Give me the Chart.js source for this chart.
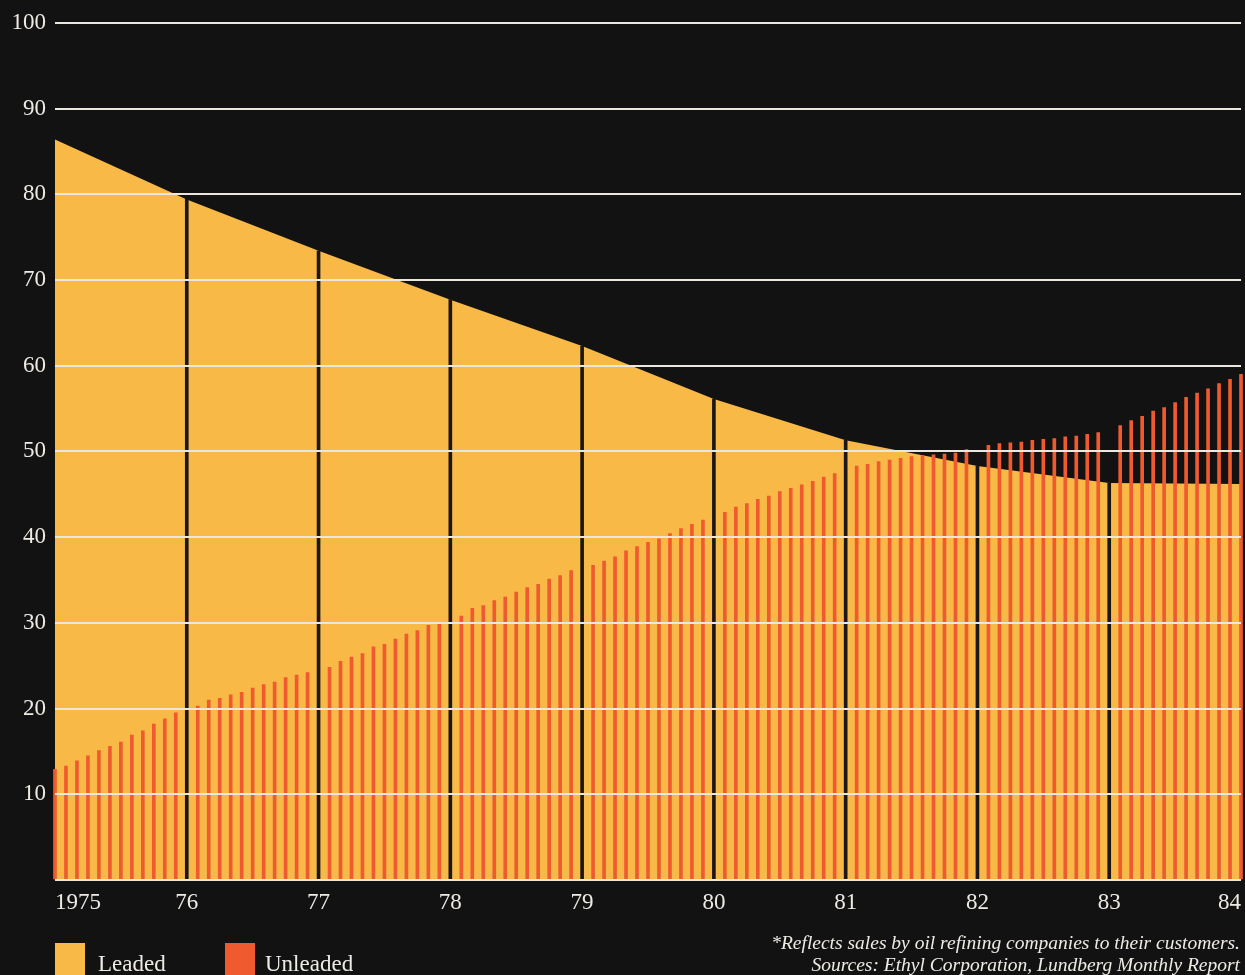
<!DOCTYPE html>
<html>
<head>
<meta charset="utf-8">
<script src="https://cdn.jsdelivr.net/npm/chart.js@4/dist/chart.umd.min.js"></script>
<style>
    body { margin: 0; background: #131212; }
    #wrap { position: relative; width: 1245px; height: 975px; overflow: hidden; background: #131212; }
    #chart { position: absolute; left: 0; top: 0; }
    .key { position: absolute; top: 943px; width: 30px; height: 40px; }
    .keyLabel { position: absolute; top: 951px; font: 23px 'Liberation Serif', serif; color: #eeeae4; }
    .note { position: absolute; right: 5px; top: 932px; text-align: right; font: italic 19.5px 'Liberation Serif', serif; color: #eeeae4; line-height: 22px; }
</style>
</head>
<body>
<div id="wrap">
    <canvas id="chart" width="1245" height="975"></canvas>
    <div class="key" style="left:55px;background:#F8B947"></div>
    <div class="keyLabel" style="left:98px">Leaded</div>
    <div class="key" style="left:225px;background:#EF5B2F"></div>
    <div class="keyLabel" style="left:265px">Unleaded</div>
    <div class="note">*Reflects sales by oil refining companies to their customers.<br>Sources: Ethyl Corporation, Lundberg Monthly Report</div>
</div>
<script>
const LEADED_COLOR = '#F8B947';
const UNLEADED_COLOR = '#EF5B2F';
const YEAR_LINE_COLOR = '#1c1714';
const TEXT_COLOR = '#eeeae4';

// one label per year, months run 0..108 on the x axis
const yearLabels = ['1975', '76', '77', '78', '79', '80', '81', '82', '83', '84'];

// share of leaded gasoline at the start of each year
const leadedYearly = [86.4, 79.4, 73.4, 67.7, 62.3, 56.1, 51.3, 48.3, 46.3, 46.2];

// unleaded share, one bar a month (null where the year line sits)
const unleadedMonthly = [
    12.9, 13.3, 13.9, 14.5, 15.1, 15.6, 16.1, 16.9, 17.4, 18.2, 18.8, 19.5,
    null, 20.3, 21.0, 21.2, 21.6, 21.9, 22.4, 22.8, 23.1, 23.6, 23.9, 24.2,
    null, 24.8, 25.5, 26.0, 26.4, 27.2, 27.5, 28.1, 28.7, 29.1, 29.7, 30.0,
    null, 30.8, 31.7, 32.0, 32.6, 33.0, 33.6, 34.1, 34.5, 35.1, 35.5, 36.1,
    null, 36.7, 37.2, 37.7, 38.4, 38.9, 39.4, 39.8, 40.4, 41.0, 41.5, 42.0,
    null, 42.9, 43.5, 43.9, 44.4, 44.8, 45.3, 45.7, 46.1, 46.5, 47.0, 47.4,
    null, 48.3, 48.5, 48.8, 49.0, 49.2, 49.4, 49.5, 49.6, 49.7, 49.8, 50.2,
    null, 50.7, 50.9, 51.0, 51.1, 51.3, 51.4, 51.5, 51.7, 51.8, 52.0, 52.2,
    null, 53.0, 53.6, 54.1, 54.7, 55.1, 55.7, 56.3, 56.8, 57.3, 57.9, 58.4,
    59.0
];

const yTicks = [0, 10, 20, 30, 40, 50, 60, 70, 80, 90, 100];

const leadedPoints = leadedYearly.map((v, i) => ({ x: i * 12, y: v }));
const unleadedPoints = unleadedMonthly
    .map((v, i) => ({ x: i, y: v }))
    .filter(p => p.y !== null);
// black rules at each inner year, up to the leaded share
const yearLinePoints = leadedPoints.slice(1, -1);

new Chart(document.getElementById('chart'), {
    data: {
        datasets: [{
            type: 'line',
            label: 'Leaded',
            data: leadedPoints,
            backgroundColor: LEADED_COLOR,
            borderWidth: 0,
            pointRadius: 0,
            fill: 'origin',
            tension: 0,
            order: 3,
        }, {
            type: 'bar',
            label: 'Unleaded',
            data: unleadedPoints,
            backgroundColor: UNLEADED_COLOR,
            barThickness: 3,
            grouped: false,
            clip: 3,
            order: 2,
        }, {
            type: 'bar',
            label: 'years',
            data: yearLinePoints,
            backgroundColor: YEAR_LINE_COLOR,
            barThickness: 3,
            grouped: false,
            order: 1,
        }]
    },
    options: {
        responsive: false,
        animation: false,
        layout: { padding: { top: 11, right: 4, left: 0, bottom: 0 } },
        plugins: {
            legend: { display: false },
            tooltip: { enabled: false },
        },
        scales: {
            x: {
                type: 'linear',
                min: 0,
                max: 108,
                offset: false,
                grid: { display: false },
                border: { display: false },
                afterBuildTicks: (scale) => {
                    scale.ticks = yearLabels.map((_, i) => ({ value: i * 12 }));
                },
                afterFit: (scale) => { scale.height = 95; },
                ticks: {
                    align: 'inner',
                    maxRotation: 0,
                    autoSkip: false,
                    padding: 1,
                    color: TEXT_COLOR,
                    font: { family: 'Liberation Serif', size: 23 },
                    callback: (v) => yearLabels[v / 12],
                },
            },
            y: {
                min: 0,
                max: 100,
                afterBuildTicks: (scale) => {
                    scale.ticks = yTicks.map(v => ({ value: v }));
                },
                afterFit: (scale) => { scale.width = 55; },
                grid: {
                    color: '#ebe7df',
                    lineWidth: 2,
                    drawTicks: false,
                    z: 1,
                },
                border: { display: false },
                ticks: {
                    padding: 9,
                    color: TEXT_COLOR,
                    font: { family: 'Liberation Serif', size: 23 },
                    callback: (v) => v === 0 ? '' : v,
                },
            },
        },
    },
});
</script>
</body>
</html>
